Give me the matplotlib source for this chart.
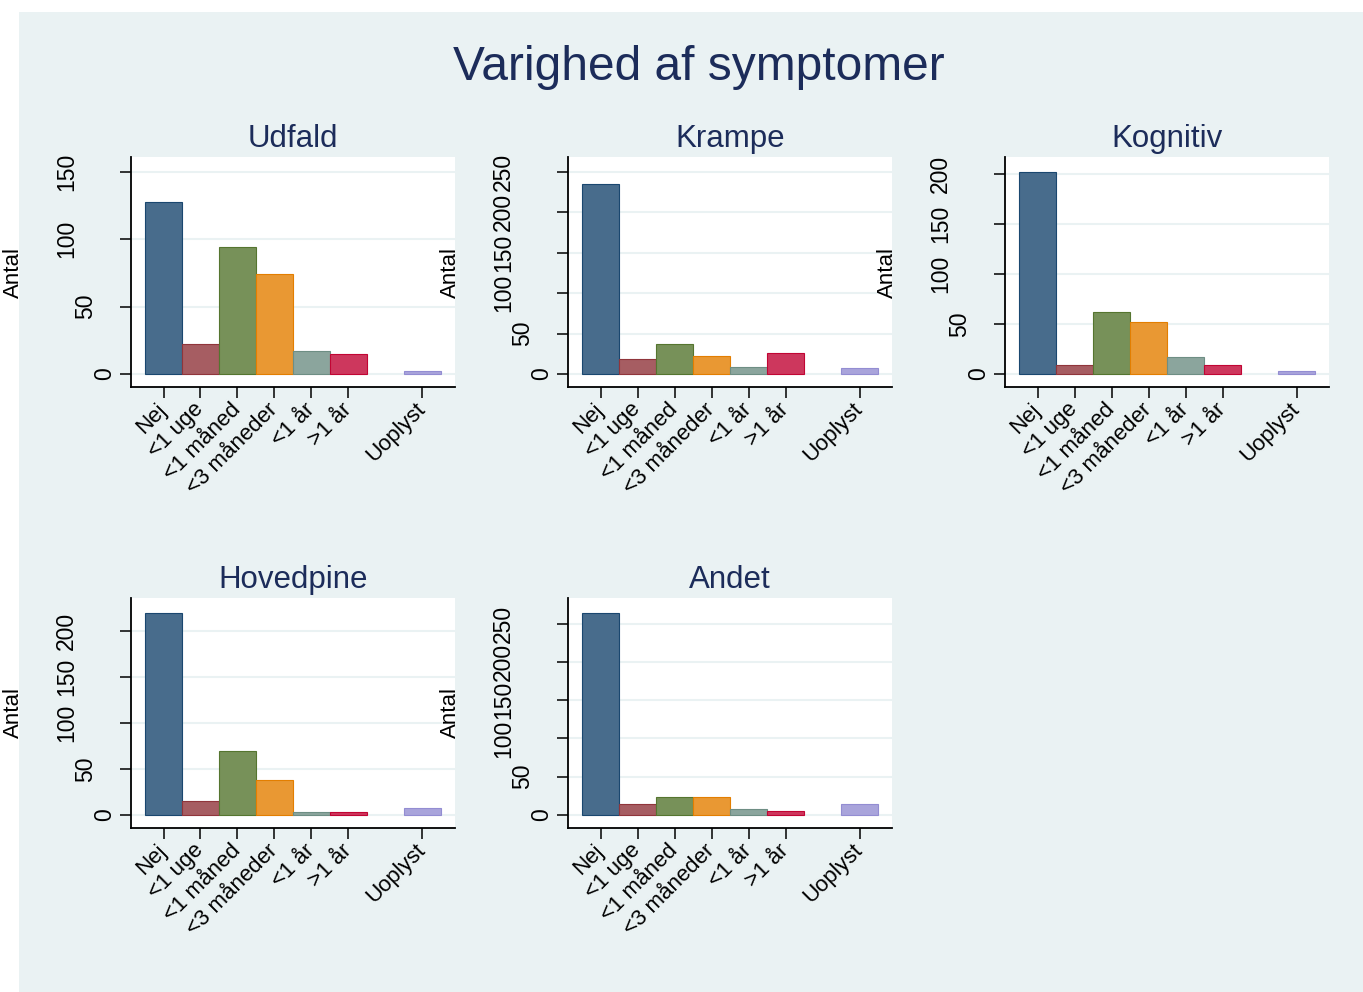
# Varighed af symptomer - bar panels in Stata s2color style

import numpy as np
import matplotlib.pyplot as plt
from matplotlib.patches import Rectangle

plt.rcParams['font.family'] = ['Liberation Sans', 'DejaVu Sans']

categories = ["Nej", "<1 uge", "<1 måned", "<3 måneder", "<1 år", ">1 år", "Uoplyst"]
positions = [1, 2, 3, 4, 5, 6, 8]

panels = ["Udfald", "Krampe", "Kognitiv", "Hovedpine", "Andet"]
udfald = [128, 22, 94, 74, 17, 15, 2]
krampe = [235, 18, 37, 22, 9, 26, 8]
kognitiv = [202, 9, 62, 52, 17, 9, 3]
hovedpine = [220, 15, 70, 38, 3, 3, 8]
andet = [264, 14, 24, 23, 8, 5, 14]
values = [udfald, krampe, kognitiv, hovedpine, andet]

yticks = [
    [0, 50, 100, 150],
    [0, 50, 100, 150, 200, 250],
    [0, 50, 100, 150, 200],
    [0, 50, 100, 150, 200],
    [0, 50, 100, 150, 200, 250],
]

# stata s2color, outline full colour, fill at 80% intensity
base = ["#1a476f", "#90353b", "#55752f", "#e37e00", "#6e8e84", "#c10534", "#938dd2"]

def lighten(hexcol, f=0.8):
    c = np.array([int(hexcol[i:i + 2], 16) for i in (1, 3, 5)]) / 255
    return tuple(f * c + (1 - f))

fills = [lighten(c) for c in base]

bg = "#eaf2f3"
navy = "#1c2c5a"

W, H = 1363, 992
fig = plt.figure(figsize=(W / 100, H / 100), dpi=100)
fig.patch.set_facecolor("white")
fig.patches.append(Rectangle((19 / W, 0), 1 - 19 / W, 1 - 12 / H,
                             transform=fig.transFigure, facecolor=bg,
                             edgecolor="none", zorder=-10))

fig.text(699 / W, 1 - 80 / H, "Varighed af symptomer", ha="center",
         va="baseline", fontsize=34.5, color=navy)

lefts = [131, 568, 1005, 131, 568]
tops = [157, 157, 157, 598, 598]
ax_w, ax_h = 324, 230
px = 0.72  # points per pixel at dpi 100

for name, vals, ticks, lx, ty in zip(panels, values, yticks, lefts, tops):
    ax = fig.add_axes([lx / W, 1 - (ty + ax_h) / H, ax_w / W, ax_h / H])
    ax.set_facecolor("white")
    ax.bar(positions, vals, width=1, color=fills, edgecolor=base,
           linewidth=0.8, zorder=3)

    ymax = max(max(vals), ticks[-1])
    k = 202 / ymax
    ax.set_ylim(-13 / k, ymax + 15 / k)
    ax.set_xlim(0.5 - 14 / 37, 8.5 + 14 / 37)

    ax.set_yticks(ticks)
    ax.tick_params(axis="y", length=8, width=1.1, labelleft=False)
    # stata shifts vertical labels left by their length
    for t in ticks:
        lab = str(t)
        off = 7 + 1.5 * 12.8 * len(lab)
        ax.annotate(lab, xy=(0, t), xycoords=("axes fraction", "data"),
                    xytext=(-off * px, 0), textcoords="offset points",
                    rotation=90, ha="center", va="center", fontsize=16.5,
                    annotation_clip=False)

    ax.set_xticks(positions)
    ax.set_xticklabels(categories, rotation=45, ha="right", va="center",
                       rotation_mode="anchor", fontsize=16)
    ax.tick_params(axis="x", length=8, width=1.1, pad=6)

    ax.grid(axis="y", color=bg, linewidth=1.5, zorder=0)
    ax.set_axisbelow(True)
    for s in ["top", "right"]:
        ax.spines[s].set_visible(False)
    for s in ["left", "bottom"]:
        ax.spines[s].set_linewidth(1.3)

    ax.set_title(name, fontsize=22.5, color=navy, pad=7)
    ax.text(-117.5 / ax_w, 0.5, "Antal", rotation=90, ha="center",
            va="center", fontsize=16, transform=ax.transAxes, clip_on=False)

fig.savefig("out.png", dpi=100)
